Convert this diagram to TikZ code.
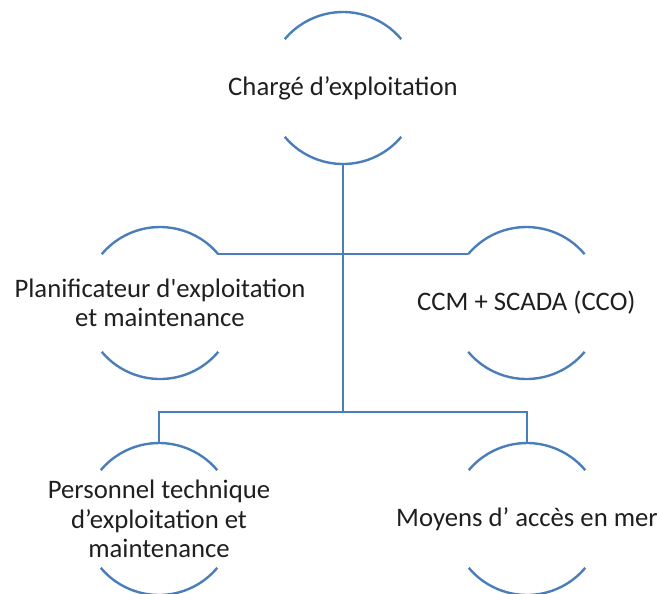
\documentclass[tikz,border=0pt]{standalone}
\usepackage{fontspec}
\setmainfont{Carlito}
\usetikzlibrary{calc}
\definecolor{ringblue}{RGB}{74,126,187}
\newcommand{\ringarcs}[1]{%
  \draw[ring] ($(#1.center)+(40:1.9)$) arc[start angle=40, end angle=140, radius=1.9];
  \draw[ring] ($(#1.center)+(220:1.9)$) arc[start angle=220, end angle=320, radius=1.9];}

\begin{document}
\begin{tikzpicture}[
  ring/.style={draw=ringblue, line width=1.7pt},
  link/.style={draw=ringblue, line width=1.7pt},
  role/.style={minimum width=3.8cm, minimum height=3.8cm, inner sep=0pt, align=center,
    font=\fontsize{19}{21}\selectfont, text=black!88}]
\useasboundingbox (0,0) rectangle (16.475,-14.825);
\node[role] at (8.575,-2.2) (charge) {Chargé d’exploitation};
\node[role] at (4.0,-7.575) (planif) {Planificateur d\textquotesingle exploitation\\et maintenance};
\node[role] at (13.16,-7.575) (ccm) {CCM + SCADA (CCO)};
\node[role] at (3.975,-12.975) (personnel) {Personnel technique\\d’exploitation et\\maintenance};
\node[role] at (13.175,-12.975) (moyens) {Moyens d’ accès en mer};
\coordinate (bus) at (8.575,-10.3);
% half circles round each role
\ringarcs{charge}
\ringarcs{planif}
\ringarcs{ccm}
\ringarcs{personnel}
\ringarcs{moyens}
% connectors
\draw[link] (charge.south) -- (bus);
\draw[link] ($(planif.center)+(40:1.9)$) -- ($(ccm.center)+(140:1.9)$);
\draw[link] (personnel.north) |- (bus) -| (moyens.north);
\end{tikzpicture}
\end{document}
